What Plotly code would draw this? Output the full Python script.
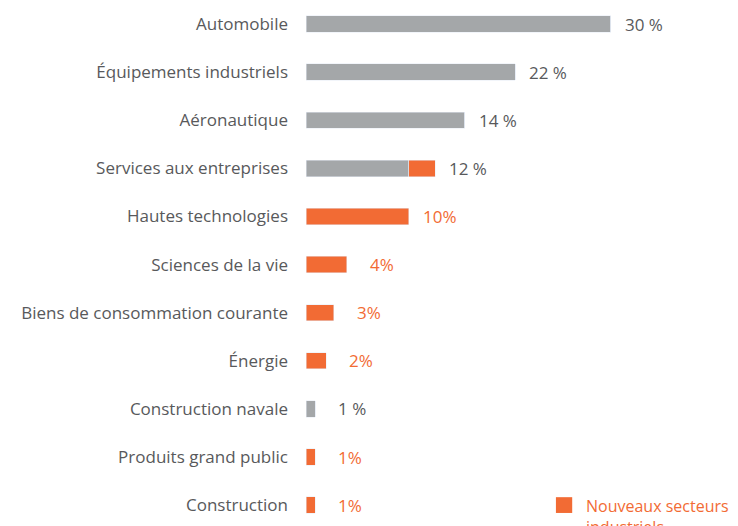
import plotly.graph_objects as go

categories = ["Automobile", "Équipements industriels", "Aéronautique",
              "Services aux entreprises", "Hautes technologies", "Sciences de la vie",
              "Biens de consommation courante", "Énergie", "Construction navale",
              "Produits grand public", "Construction"]
# bar lengths as drawn (in %), gray = historic sectors, orange = new industrial sectors
gray_vals = [30, 20.6, 15.6, 10.1, 0, 0, 0, 0, 0.9, 0, 0]
orange_vals = [0, 0, 0, 2.6, 10.1, 4.0, 2.75, 2.0, 0, 0.9, 0.9]
labels = ["30 %", "22 %", "14 %", "12 %", "10%", "4%", "3%", "2%", "1 %", "1%", "1%"]
label_is_new = [False, False, False, False, True, True, True, True, False, True, True]
legend_text = "Nouveaux secteurs<br>industriels"

GRAY = "#a4a7a9"
ORANGE = "#f26b34"
TEXT = "#58595b"
FONT = "Open Sans"

fig = go.Figure()
fig.add_trace(go.Bar(y=categories, x=gray_vals, orientation="h", marker_color=GRAY,
                     width=0.34, showlegend=False, hoverinfo="skip"))
fig.add_trace(go.Bar(y=categories, x=orange_vals, orientation="h", marker_color=ORANGE,
                     width=0.34, showlegend=False))

for cat, g, o, lab, new in zip(categories, gray_vals, orange_vals, labels, label_is_new):
    total = g + o
    fig.add_annotation(x=total, y=cat, text=lab, showarrow=False, xanchor="left",
                       xshift=21 if total < 5 else 12,
                       font=dict(family=FONT, size=17, color=ORANGE if new else TEXT))

# legend drawn by hand so it does not push the plot margins
fig.add_shape(type="rect", xref="paper", yref="paper", x0=0.568, x1=0.605,
              y0=0.040, y1=0.070, fillcolor=ORANGE, line_width=0)
fig.add_annotation(xref="paper", yref="paper", x=0.632, y=0.078, text=legend_text,
                   showarrow=False, xanchor="left", yanchor="top", align="left",
                   font=dict(family=FONT, size=16, color=ORANGE))

fig.update_layout(
    width=738, height=526,
    barmode="stack",
    margin=dict(l=298, r=0, t=0, b=0),
    plot_bgcolor="white", paper_bgcolor="white",
    font=dict(family=FONT, size=17, color=TEXT),
    showlegend=False,
)
fig.update_xaxes(range=[0, 43.3], visible=False)
fig.update_yaxes(range=[10.60, -0.333], showgrid=False, zeroline=False, showline=False,
                 ticks="", ticklabelstandoff=17, tickfont=dict(color=TEXT, size=17))

fig.write_html("out.html")
